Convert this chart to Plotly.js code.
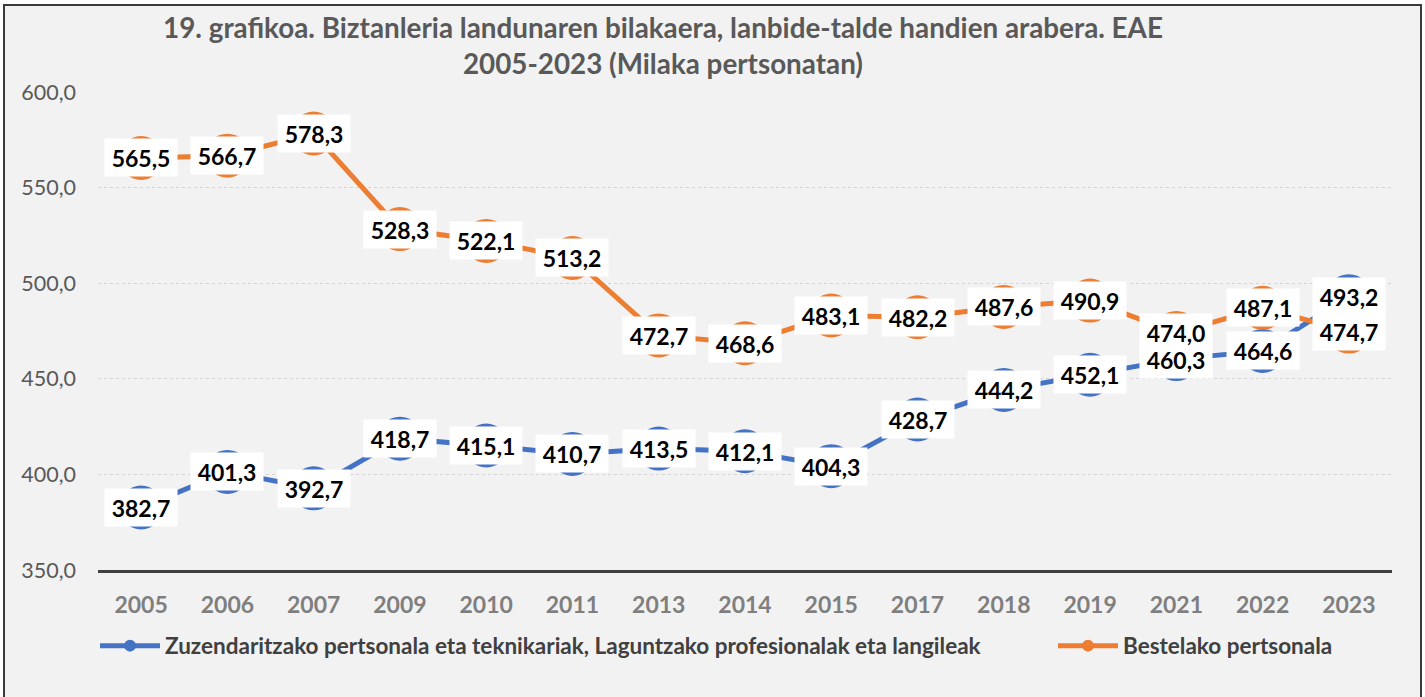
<!DOCTYPE html>
<html>
<head>
<meta charset="utf-8">
<script src="https://cdn.plot.ly/plotly-3.0.1.min.js"></script>
<style>
  html, body { margin:0; padding:0; background:#ffffff; width:1425px; height:697px; overflow:hidden; }
  #frame { position:absolute; left:3px; top:4px; width:1419px; height:720px; box-sizing:border-box;
           border:2px solid #3a3a3a; background:#f2f2f2; z-index:0; }
  #chart { position:absolute; left:0; top:0; width:1425px; height:697px; z-index:1; }
</style>
</head>
<body>
<div id="frame"></div>
<div id="chart"></div>
<script>
const years = ['2005','2006','2007','2009','2010','2011','2013','2014','2015','2017','2018','2019','2021','2022','2023'];
const zuzendaritza = [382.7,401.3,392.7,418.7,415.1,410.7,413.5,412.1,404.3,428.7,444.2,452.1,460.3,464.6,493.2];
const bestelako = [565.5,566.7,578.3,528.3,522.1,513.2,472.7,468.6,483.1,482.2,487.6,490.9,474.0,487.1,474.7];
const seriesNames = ['Zuzendaritzako pertsonala eta teknikariak, Laguntzako profesionalak eta langileak', 'Bestelako pertsonala'];
const titleText = '19. grafikoa. Biztanleria landunaren bilakaera, lanbide-talde handien arabera. EAE<br>2005-2023 (Milaka pertsonatan)';

const FONT = 'Lato, "Open Sans", sans-serif';
const BLUE = '#4472C4', ORANGE = '#ED7D31';

function fmt(v){ return v.toFixed(1).replace('.', ','); }

const traces = [
  { type:'scatter', mode:'lines+markers', x: years, y: zuzendaritza, name: seriesNames[0],
    line:{color:BLUE, width:5}, marker:{color:BLUE, size:44}, legend:'legend', hoverinfo:'skip' },
  { type:'scatter', mode:'lines+markers', x: years, y: bestelako, name: seriesNames[1],
    line:{color:ORANGE, width:5}, marker:{color:ORANGE, size:44}, legend:'legend2', hoverinfo:'skip' }
];

const annotations = [];
[zuzendaritza, bestelako].forEach(arr => {
  arr.forEach((v, i) => {
    annotations.push({
      x: i, y: v, xref:'x', yref:'y', text: fmt(v), showarrow:false,
      bgcolor:'#ffffff', borderpad:5, width:62, height:27,
      font:{family:FONT, size:23, color:'#000000', weight:'bold'}
    });
  });
});

const layout = {
  width:1425, height:697,
  paper_bgcolor:'rgba(0,0,0,0)', plot_bgcolor:'rgba(0,0,0,0)',
  separators:', ',
  margin:{l:98, r:33, t:92, b:127},
  font:{family:FONT},
  title:{ text:titleText, x:663/1425, xref:'container', xanchor:'center', y:1-38/697, yref:'container', yanchor:'top',
          font:{family:FONT, size:27.8, color:'#595959', weight:'bold'} },
  xaxis:{ type:'category', range:[-0.5, 14.5], showgrid:false, zeroline:false,
          showline:true, linecolor:'#404040', linewidth:3, ticks:'',
          ticklabelstandoff:12,
          tickfont:{family:FONT, size:23, color:'#7f7f7f', weight:'bold'} },
  yaxis:{ range:[350, 600], dtick:50, tick0:350, tickformat:'.1f', showgrid:true,
          gridcolor:'#d4d4d4', griddash:'dot', gridwidth:1, zeroline:false, showline:false, ticks:'',
          ticklabelstandoff:21,
          tickfont:{family:FONT, size:21.5, color:'#595959'} },
  showlegend:true,
  legend:{ orientation:'h', xref:'container', yref:'container', x:95/1425, y:1-646/697, xanchor:'left', yanchor:'middle',
           bgcolor:'rgba(0,0,0,0)', itemsizing:'constant', itemwidth:60,
           font:{family:FONT, size:22.5, color:'#404040', weight:'bold'} },
  legend2:{ orientation:'h', xref:'container', yref:'container', x:1053/1425, y:1-646/697, xanchor:'left', yanchor:'middle',
           bgcolor:'rgba(0,0,0,0)', itemsizing:'constant', itemwidth:60,
           font:{family:FONT, size:22.5, color:'#404040', weight:'bold'} },
  annotations: annotations
};

Plotly.newPlot('chart', traces, layout, {displayModeBar:false, staticPlot:true});
</script>
</body>
</html>
